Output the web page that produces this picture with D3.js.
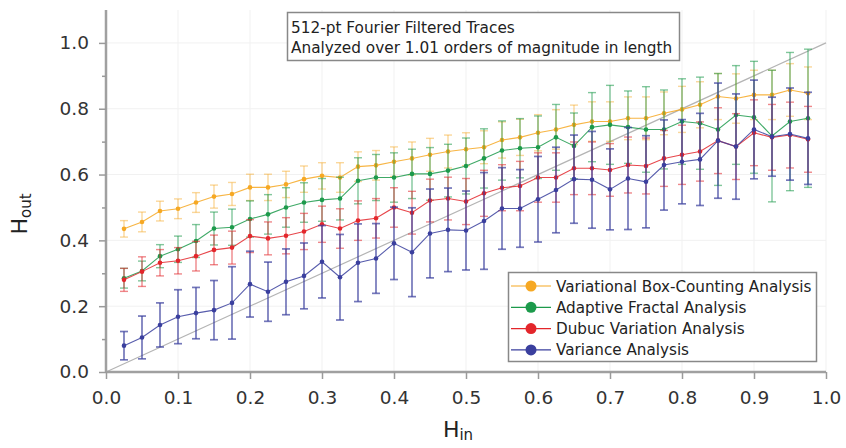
<!DOCTYPE html>
<html>
<head>
<meta charset="utf-8">
<script src="https://cdn.jsdelivr.net/npm/d3@7/dist/d3.min.js"></script>
<style>
  html, body { margin: 0; padding: 0; background: #fff; }
  svg { display: block; }
  text { font-family: "DejaVu Sans", "Liberation Sans", sans-serif; }
</style>
</head>
<body>
<svg id="chart" width="846" height="448"></svg>
<script>
// Input Hurst exponents (x positions of every estimate)
const hIn = [0.025,0.05,0.075,0.1,0.125,0.15,0.175,0.2,0.225,0.25,0.275,0.3,0.325,0.35,0.375,0.4,0.425,0.45,0.475,0.5,
             0.525,0.55,0.575,0.6,0.625,0.65,0.675,0.7,0.725,0.75,0.775,0.8,0.825,0.85,0.875,0.9,0.925,0.95,0.975];

const seriesNames = ["Variational Box-Counting Analysis", "Adaptive Fractal Analysis", "Dubuc Variation Analysis", "Variance Analysis"];

// Mean estimated H for each method
const vbcMean = [0.435,0.456,0.489,0.496,0.515,0.533,0.541,0.561,0.561,0.570,0.586,0.596,0.591,0.624,0.628,0.639,0.649,0.660,0.670,0.677,
                 0.683,0.705,0.713,0.727,0.737,0.751,0.761,0.761,0.771,0.771,0.786,0.798,0.812,0.837,0.831,0.842,0.842,0.857,0.847];
const afaMean = [0.285,0.307,0.352,0.373,0.398,0.436,0.440,0.465,0.479,0.500,0.515,0.523,0.527,0.581,0.591,0.591,0.602,0.602,0.612,0.626,
                 0.649,0.673,0.680,0.683,0.713,0.687,0.744,0.751,0.744,0.737,0.737,0.761,0.756,0.737,0.781,0.774,0.717,0.761,0.771];
const dvaMean = [0.280,0.305,0.332,0.338,0.352,0.371,0.378,0.413,0.406,0.414,0.427,0.449,0.436,0.460,0.467,0.500,0.484,0.521,0.527,0.518,
                 0.543,0.560,0.565,0.591,0.591,0.619,0.619,0.614,0.629,0.626,0.649,0.660,0.670,0.703,0.685,0.727,0.713,0.720,0.707];
const varMean = [0.080,0.105,0.143,0.168,0.179,0.188,0.210,0.267,0.244,0.274,0.292,0.335,0.288,0.332,0.345,0.391,0.364,0.421,0.432,0.430,
                 0.459,0.497,0.497,0.525,0.553,0.586,0.584,0.555,0.588,0.578,0.629,0.639,0.646,0.703,0.685,0.737,0.715,0.723,0.710];

// Standard deviation of each estimate (error bar half-length)
const vbcErr = [0.025,0.030,0.030,0.030,0.030,0.035,0.035,0.040,0.040,0.040,0.040,0.040,0.045,0.045,0.045,0.045,0.050,0.050,0.050,0.050,
                0.050,0.055,0.055,0.055,0.060,0.060,0.060,0.060,0.065,0.065,0.065,0.070,0.070,0.070,0.075,0.075,0.075,0.080,0.080];
const afaErr = [0.030,0.030,0.035,0.040,0.050,0.050,0.055,0.055,0.060,0.060,0.060,0.065,0.065,0.070,0.070,0.075,0.075,0.080,0.080,0.085,
                0.090,0.090,0.090,0.095,0.100,0.100,0.105,0.120,0.110,0.130,0.120,0.130,0.140,0.170,0.150,0.170,0.200,0.210,0.210];
const dvaErr = [0.035,0.045,0.040,0.040,0.045,0.045,0.050,0.050,0.050,0.055,0.055,0.055,0.060,0.060,0.060,0.060,0.065,0.065,0.065,0.070,
                0.070,0.070,0.075,0.075,0.075,0.080,0.080,0.080,0.085,0.085,0.085,0.090,0.090,0.100,0.100,0.100,0.100,0.100,0.100];
const varErr = [0.043,0.065,0.067,0.082,0.078,0.090,0.110,0.100,0.090,0.100,0.100,0.110,0.130,0.118,0.106,0.110,0.135,0.135,0.127,0.120,
                0.147,0.124,0.118,0.130,0.130,0.134,0.147,0.123,0.155,0.140,0.137,0.128,0.140,0.175,0.160,0.150,0.120,0.140,0.140];

const xTicks = [0.0,0.1,0.2,0.3,0.4,0.5,0.6,0.7,0.8,0.9,1.0];
const yTicks = [0.0,0.2,0.4,0.6,0.8,1.0];
const yMinorTicks = [0.1,0.3,0.5,0.7,0.9];

const titleLines = ["512-pt Fourier Filtered Traces", "Analyzed over 1.01 orders of magnitude in length"];

const colors = ["#f6a823", "#1c9a4b", "#e3262b", "#3a3f9e"];
const barOpacity = [0.45, 0.55, 0.55, 0.7];
const means = [vbcMean, afaMean, dvaMean, varMean];
const errs = [vbcErr, afaErr, dvaErr, varErr];

const svg = d3.select("#chart");
const plotL = 106, plotR = 826, plotT = 10, plotB = 372;

const x = d3.scaleLinear().domain([0, 1]).range([plotL, plotR]);
const y = d3.scaleLinear().domain([0, 1.1]).range([plotB, plotT]);

// faint grid
const grid = svg.append("g");
grid.selectAll("line.gx").data(xTicks.slice(1)).join("line")
  .attr("x1", d => x(d)).attr("x2", d => x(d)).attr("y1", plotT).attr("y2", plotB)
  .attr("stroke", "#f1f1f1").attr("stroke-width", 1);
grid.selectAll("line.gy").data(yTicks.slice(1)).join("line")
  .attr("x1", plotL).attr("x2", plotR).attr("y1", d => y(d)).attr("y2", d => y(d))
  .attr("stroke", "#f1f1f1").attr("stroke-width", 1);

// identity line H_out = H_in
svg.append("line")
  .attr("x1", x(0)).attr("y1", y(0)).attr("x2", x(1)).attr("y2", y(1))
  .attr("stroke", "#b4b4b4").attr("stroke-width", 1.2);

// series: error bars, connecting line, markers
means.forEach((m, s) => {
  const g = svg.append("g");
  const pts = hIn.map((h, i) => ({ h, v: m[i], e: errs[s][i] }));
  const bw = s === 3 ? 1.7 : 1.4;
  g.selectAll("line.bar").data(pts).join("line")
    .attr("x1", d => x(d.h)).attr("x2", d => x(d.h))
    .attr("y1", d => y(d.v - d.e)).attr("y2", d => y(d.v + d.e))
    .attr("stroke", colors[s]).attr("stroke-width", bw).attr("opacity", barOpacity[s]);
  [-1, 1].forEach(sign => {
    g.append("g").selectAll("line").data(pts).join("line")
      .attr("x1", d => x(d.h) - 4).attr("x2", d => x(d.h) + 4)
      .attr("y1", d => y(d.v + sign * d.e)).attr("y2", d => y(d.v + sign * d.e))
      .attr("stroke", colors[s]).attr("stroke-width", bw).attr("opacity", barOpacity[s]);
  });
  g.append("path").datum(pts)
    .attr("d", d3.line().x(d => x(d.h)).y(d => y(d.v)))
    .attr("fill", "none").attr("stroke", colors[s]).attr("stroke-width", 1.1).attr("opacity", 0.85);
  g.append("g").selectAll("circle").data(pts).join("circle")
    .attr("cx", d => x(d.h)).attr("cy", d => y(d.v)).attr("r", 2.3)
    .attr("fill", colors[s]);
});

// axes
const xAxis = svg.append("g").attr("transform", `translate(0,${plotB})`)
  .call(d3.axisBottom(x).tickValues(xTicks).tickFormat(d3.format(".1f")).tickSize(7).tickPadding(12));
const yAxis = svg.append("g").attr("transform", `translate(${plotL},0)`)
  .call(d3.axisLeft(y).tickValues(yTicks).tickFormat(d3.format(".1f")).tickSize(7).tickPadding(10));
svg.append("g").attr("transform", `translate(${plotL},0)`)
  .call(d3.axisLeft(y).tickValues(yMinorTicks).tickFormat("").tickSize(4))
  .call(g => g.select(".domain").remove())
  .selectAll("line").attr("stroke", "#9a9a9a").attr("stroke-width", 1.5);

[xAxis, yAxis].forEach(a => {
  a.select(".domain").attr("stroke", "#a0a0a0").attr("stroke-width", 2.5);
  a.selectAll(".tick line").attr("stroke", "#9a9a9a").attr("stroke-width", 1.5);
  a.selectAll(".tick text").attr("font-size", 18.5).attr("fill", "#333");
});
yAxis.select(".domain").attr("d", `M0,${plotB}V${plotT}`);
xAxis.select(".domain").attr("d", `M${plotL},0H${plotR}`);

// axis titles
const xt = svg.append("text").attr("x", 458).attr("y", 437).attr("text-anchor", "middle")
  .attr("font-size", 22).attr("fill", "#222");
xt.append("tspan").text("H");
xt.append("tspan").attr("font-size", 15).attr("dy", 3).text("in");

const yt = svg.append("text").attr("transform", "translate(27,214) rotate(-90)")
  .attr("text-anchor", "middle").attr("font-size", 22).attr("fill", "#222");
yt.append("tspan").text("H");
yt.append("tspan").attr("font-size", 15).attr("dy", 4).text("out");

// annotation box
svg.append("rect").attr("x", 287.5).attr("y", 12.5).attr("width", 392).attr("height", 48)
  .attr("fill", "#fff").attr("stroke", "#888").attr("stroke-width", 1.5);
titleLines.forEach((t, i) => {
  svg.append("text").attr("x", 291).attr("y", 32.5 + i * 20.5)
    .attr("font-size", 15.3).attr("fill", "#222").text(t);
});

// legend
const lg = svg.append("g");
lg.append("rect").attr("x", 508.5).attr("y", 272.5).attr("width", 308).attr("height", 89)
  .attr("fill", "#fff").attr("stroke", "#888").attr("stroke-width", 1.5);
seriesNames.forEach((n, i) => {
  const cy = 286 + i * 21.3;
  lg.append("line").attr("x1", 511).attr("x2", 551).attr("y1", cy).attr("y2", cy)
    .attr("stroke", colors[i]).attr("stroke-width", 1.2);
  lg.append("circle").attr("cx", 531).attr("cy", cy).attr("r", 5.5).attr("fill", colors[i]);
  lg.append("text").attr("x", 556).attr("y", cy + 5.5).attr("font-size", 15.2).attr("fill", "#222").text(n);
});
</script>
</body>
</html>
